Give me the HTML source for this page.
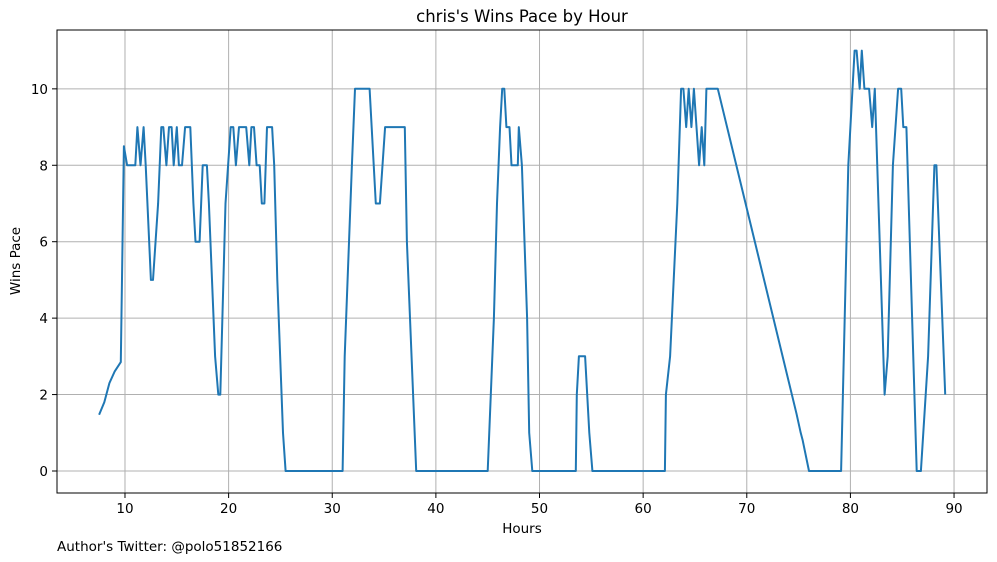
<!DOCTYPE html>
<html><head><meta charset="utf-8"><style>
body{margin:0;background:#fff;}
svg{display:block;font-family:"DejaVu Sans","Liberation Sans",sans-serif;}
</style></head><body>
<svg id="chart" width="997" height="562" viewBox="0 0 997 562">
<rect width="997" height="562" fill="#fff"/>
<text x="522" y="22" font-size="16.5" text-anchor="middle">chris's Wins Pace by Hour</text>
<g id="grid"></g>
<g id="ticks"></g>
<path id="line" fill="none" stroke="#1f77b4" stroke-width="2" stroke-linejoin="round"/>
<rect x="57" y="30" width="930" height="463" fill="none" stroke="#000" stroke-width="1"/>
<text x="522" y="533" font-size="13.5" text-anchor="middle">Hours</text>
<text x="20" y="261" font-size="13.5" text-anchor="middle" transform="rotate(-90 20 261)">Wins Pace</text>
<text x="57" y="551" font-size="13.5">Author's Twitter: @polo51852166</text>
</svg>
<script>
const hours = [7.5,8.0,8.5,9.0,9.6,9.9,10.2,11.0,11.2,11.5,11.8,12.0,12.5,12.7,13.2,13.5,13.7,14.0,14.25,14.5,14.7,15.0,15.2,15.5,15.8,16.3,16.6,16.8,17.2,17.5,17.9,18.1,18.7,19.0,19.2,19.7,20.2,20.45,20.7,21.0,21.7,22.0,22.2,22.45,22.7,23.0,23.2,23.45,23.7,24.2,24.4,24.7,25.25,25.5,31.0,31.2,31.9,32.2,33.6,34.2,34.6,35.1,37.0,37.2,38.1,45.0,45.6,45.9,46.2,46.4,46.6,46.8,47.1,47.3,47.9,48.0,48.3,48.8,49.0,49.3,53.5,53.6,53.8,54.4,54.8,55.1,62.1,62.2,62.6,63.3,63.66,63.88,64.15,64.4,64.66,64.9,65.4,65.65,65.9,66.1,67.2,74.8,75.2,75.4,76.0,79.1,79.8,80.4,80.6,80.9,81.1,81.35,81.8,82.1,82.35,83.3,83.6,84.1,84.6,84.9,85.1,85.4,86.4,86.8,87.5,88.1,88.3,89.15];
const pace = [1.47,1.8,2.3,2.6,2.85,8.5,8,8,9,8,9,8,5,5,7,9,9,8,9,9,8,9,8,8,9,9,7,6,6,8,8,7,3,2,2,7,9,9,8,9,9,8,9,9,8,8,7,7,9,9,8,5,1,0,0,3,8,10,10,7,7,9,9,6,0,0,4,7,9,10,10,9,9,8,8,9,8,4,1,0,0,2,3,3,1,0,0,2,3,7,10,10,9,10,9,10,8,9,8,10,10,1.5,1.0,0.8,0,0,8,11,11,10,11,10,10,9,10,2,3,8,10,10,9,9,0,0,3,8,8,2];
const xTicks = [10,20,30,40,50,60,70,80,90];
const yTicks = [0,2,4,6,8,10];
const X0=57,X1=987,Y0=30,Y1=493,XMIN=3.44,XMAX=93.18,YMIN=-0.576,YMAX=11.54;
const sx=v=>X0+(v-XMIN)/(XMAX-XMIN)*(X1-X0);
const sy=v=>Y1-(v-YMIN)/(YMAX-YMIN)*(Y1-Y0);
const NS='http://www.w3.org/2000/svg';
const grid=document.getElementById('grid'),ticks=document.getElementById('ticks');
function mk(tag,attrs,parent){const e=document.createElementNS(NS,tag);for(const k in attrs)e.setAttribute(k,attrs[k]);parent.appendChild(e);return e;}
xTicks.forEach(t=>{const x=sx(t);
 const g=mk('line',{x1:x,x2:x,y1:Y0,y2:Y1,stroke:'#b0b0b0','stroke-width':1},grid);
 
 
 mk('line',{x1:x,x2:x,y1:Y1,y2:Y1+5,stroke:'#000'},ticks);
 const l=mk('text',{x:x,y:Y1+20,'font-size':13.5,'text-anchor':'middle'},ticks);l.textContent=t;
 
 });
yTicks.forEach(t=>{const y=sy(t);
 const g=mk('line',{x1:X0,x2:X1,y1:y,y2:y,stroke:'#b0b0b0','stroke-width':1},grid);
 
 
 mk('line',{x1:X0-5,x2:X0,y1:y,y2:y,stroke:'#000'},ticks);
 const l=mk('text',{x:X0-9,y:y+5,'font-size':13.5,'text-anchor':'end'},ticks);l.textContent=t;
 
 });
document.getElementById('line').setAttribute('d',hours.map((h,i)=>(i?'L':'M')+sx(h).toFixed(1)+' '+sy(pace[i]).toFixed(1)).join(''));
</script>
</body></html>
